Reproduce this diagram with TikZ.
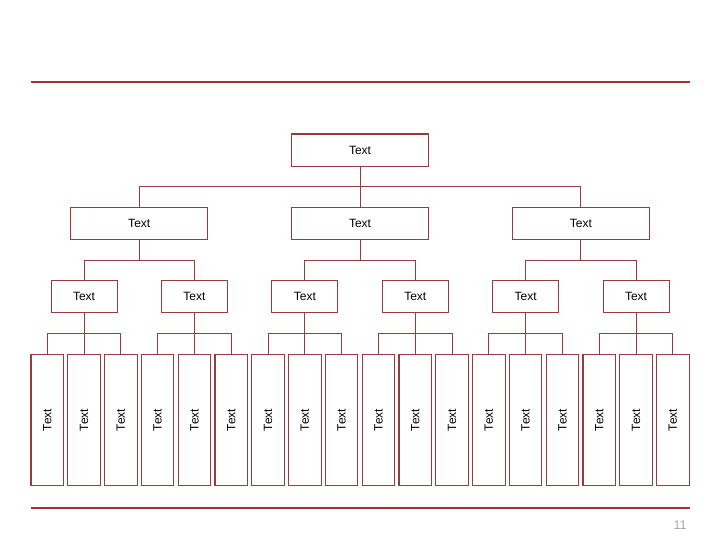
\documentclass[tikz,border=0pt]{standalone}
\usepackage{fontspec}
\setmainfont{Liberation Sans}
\usetikzlibrary{positioning, calc}
\definecolor{boxred}{RGB}{150,60,65}
\definecolor{rulered}{RGB}{168,48,48}
\definecolor{pagegray}{RGB}{165,165,165}

\begin{document}
\begin{tikzpicture}[
    x=1pt, y=-1pt,
    node distance=42pt and 4.3pt,
    topbox/.style={
        rectangle, draw=boxred, line width=1.1pt,
        minimum width=137pt, minimum height=32.5pt,
        inner sep=0pt, outer sep=0pt, text centered,
        font=\fontsize{12}{14}\selectfont
    },
    midbox/.style={topbox, minimum width=66pt, minimum height=32pt},
    leafbox/.style={topbox, minimum width=32.5pt, minimum height=131pt},
    link/.style={draw=boxred, line width=1.1pt},
    rule/.style={draw=rulered, line width=2.6pt},
]
\useasboundingbox (0,0) rectangle (720,540);

% Lineas de la pagina
\draw[rule] (31,82) -- (690,82);
\draw[rule] (31,508) -- (690,508);
\node[font=\fontsize{12.5}{14}\selectfont, text=pagegray] (pagenum) at (680,525) {11};

% Fila inferior: hojas
\node[leafbox] (leaf1) at (47.25,420) {\rotatebox{90}{Text}};
\node[leafbox, right=of leaf1] (leaf2) {\rotatebox{90}{Text}};
\node[leafbox, right=of leaf2] (leaf3) {\rotatebox{90}{Text}};
\node[leafbox, right=of leaf3] (leaf4) {\rotatebox{90}{Text}};
\node[leafbox, right=of leaf4] (leaf5) {\rotatebox{90}{Text}};
\node[leafbox, right=of leaf5] (leaf6) {\rotatebox{90}{Text}};
\node[leafbox, right=of leaf6] (leaf7) {\rotatebox{90}{Text}};
\node[leafbox, right=of leaf7] (leaf8) {\rotatebox{90}{Text}};
\node[leafbox, right=of leaf8] (leaf9) {\rotatebox{90}{Text}};
\node[leafbox, right=of leaf9] (leaf10) {\rotatebox{90}{Text}};
\node[leafbox, right=of leaf10] (leaf11) {\rotatebox{90}{Text}};
\node[leafbox, right=of leaf11] (leaf12) {\rotatebox{90}{Text}};
\node[leafbox, right=of leaf12] (leaf13) {\rotatebox{90}{Text}};
\node[leafbox, right=of leaf13] (leaf14) {\rotatebox{90}{Text}};
\node[leafbox, right=of leaf14] (leaf15) {\rotatebox{90}{Text}};
\node[leafbox, right=of leaf15] (leaf16) {\rotatebox{90}{Text}};
\node[leafbox, right=of leaf16] (leaf17) {\rotatebox{90}{Text}};
\node[leafbox, right=of leaf17] (leaf18) {\rotatebox{90}{Text}};

% Fila media: subgrupos
\node[midbox, above=of leaf2] (sub1) {Text};
\node[midbox, above=of leaf5] (sub2) {Text};
\node[midbox, above=of leaf8] (sub3) {Text};
\node[midbox, above=of leaf11] (sub4) {Text};
\node[midbox, above=of leaf14] (sub5) {Text};
\node[midbox, above=of leaf17] (sub6) {Text};

% Fila superior: grupos y raiz
\node[topbox] (grp1) at ($(sub1)!0.5!(sub2)+(0,-73)$) {Text};
\node[topbox] (grp2) at ($(sub3)!0.5!(sub4)+(0,-73)$) {Text};
\node[topbox] (grp3) at ($(sub5)!0.5!(sub6)+(0,-73)$) {Text};
\node[topbox, above=40.75pt of grp2] (root) {Text};

% Raiz a grupos
\draw[link] (root.south) -- ++(0,20) -| (grp1.north);
\draw[link] (root.south) -- ++(0,20) -| (grp3.north);
\draw[link] (root) -- (grp2);

% Grupos a subgrupos
\draw[link] (grp1.south) -- ++(0,21) -| (sub1.north);
\draw[link] (grp1.south) -- ++(0,21) -| (sub2.north);
\draw[link] (grp2.south) -- ++(0,21) -| (sub3.north);
\draw[link] (grp2.south) -- ++(0,21) -| (sub4.north);
\draw[link] (grp3.south) -- ++(0,21) -| (sub5.north);
\draw[link] (grp3.south) -- ++(0,21) -| (sub6.north);

% Subgrupos a hojas
\draw[link] (sub1.south) -- ++(0,21) -| (leaf1.north);
\draw[link] (sub1.south) -- ++(0,21) -| (leaf3.north);
\draw[link] (sub1) -- (leaf2);
\draw[link] (sub2.south) -- ++(0,21) -| (leaf4.north);
\draw[link] (sub2.south) -- ++(0,21) -| (leaf6.north);
\draw[link] (sub2) -- (leaf5);
\draw[link] (sub3.south) -- ++(0,21) -| (leaf7.north);
\draw[link] (sub3.south) -- ++(0,21) -| (leaf9.north);
\draw[link] (sub3) -- (leaf8);
\draw[link] (sub4.south) -- ++(0,21) -| (leaf10.north);
\draw[link] (sub4.south) -- ++(0,21) -| (leaf12.north);
\draw[link] (sub4) -- (leaf11);
\draw[link] (sub5.south) -- ++(0,21) -| (leaf13.north);
\draw[link] (sub5.south) -- ++(0,21) -| (leaf15.north);
\draw[link] (sub5) -- (leaf14);
\draw[link] (sub6.south) -- ++(0,21) -| (leaf16.north);
\draw[link] (sub6.south) -- ++(0,21) -| (leaf18.north);
\draw[link] (sub6) -- (leaf17);

\end{tikzpicture}
\end{document}
